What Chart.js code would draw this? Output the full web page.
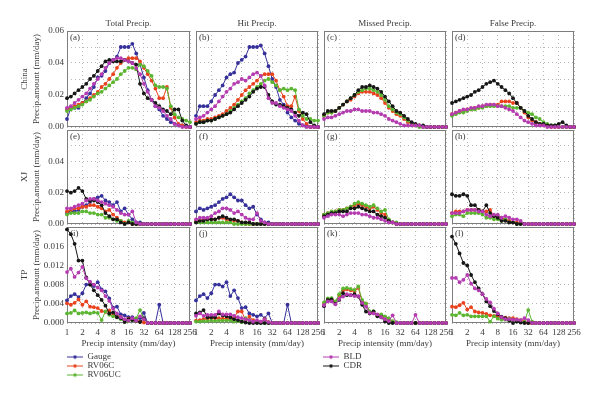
<!DOCTYPE html>
<html>
<head>
<meta charset="utf-8">
<script src="https://cdn.jsdelivr.net/npm/chart.js@4.4.1/dist/chart.umd.min.js"></script>
<style>
html, body { margin: 0; padding: 0; background: #fff; }
#wrap { position: relative; width: 600px; height: 398px; }
#wrap canvas { position: absolute; left: 0; top: 0; }
</style>
</head>
<body>
<div id="wrap"></div>
<script>
// precip intensity bins (mm/day), 4 per octave
const intensity = [1, 1.19, 1.41, 1.68, 2, 2.38, 2.83, 3.36, 4, 4.76, 5.66, 6.73, 8, 9.51, 11.31, 13.45,
  16, 19.03, 22.63, 26.91, 32, 38.05, 45.25, 53.82, 64, 76.11, 90.51, 107.63, 128, 152.22, 181.02, 215.27, 256];
const xTicks = [1, 2, 4, 8, 16, 32, 64, 128, 256];
const columns = ['Total Precip.', 'Hit Precip.', 'Missed Precip.', 'False Precip.'];
const regions = ['China', 'XJ', 'TP'];

// China
const aGauge = [.005,.012,.012,.012,.015,.018,.021,.025,.031,.032,.035,.040,.042,.044,.050,.050,.050,.052,.046,.039,.031,.023,.017,.013,.011,.007,.005,.003,.002,.001,.001,.0005,0];
const aRV06C = [.011,.012,.013,.014,.015,.016,.018,.020,.022,.025,.027,.030,.033,.037,.040,.042,.043,.043,.043,.041,.037,.033,.029,.024,.018,.018,.025,.012,.006,.002,.001,0,0];
const aRV06UC = [.010,.011,.012,.013,.014,.016,.017,.019,.021,.022,.024,.026,.028,.030,.033,.035,.037,.037,.036,.039,.038,.035,.032,.026,.025,.025,.024,.013,.008,.006,.005,.004,.003];
const aBLD = [.012,.013,.015,.017,.019,.021,.024,.027,.030,.033,.037,.040,.042,.043,.043,.042,.041,.040,.037,.033,.027,.022,.017,.013,.012,.010,.007,.005,.002,.001,0,0,0];
const aCDR = [.018,.019,.021,.023,.025,.027,.030,.032,.035,.038,.041,.042,.041,.041,.041,.042,.041,.040,.039,.027,.021,.018,.017,.015,.013,.011,.010,.008,.011,.011,.004,.001,0];

const bGauge = [.007,.013,.013,.013,.016,.020,.023,.026,.031,.033,.034,.040,.042,.044,.050,.050,.050,.051,.046,.038,.030,.025,.017,.014,.009,.006,.004,.002,.001,.001,0,0,0];
const bRV06C = [.003,.004,.004,.005,.005,.006,.007,.008,.010,.012,.014,.017,.020,.023,.025,.027,.029,.032,.033,.033,.033,.029,.023,.019,.013,.013,.019,.010,.005,.002,0,0,0];
const bRV06UC = [.002,.003,.003,.004,.004,.005,.006,.007,.008,.010,.012,.014,.016,.018,.021,.023,.025,.027,.029,.030,.028,.026,.023,.024,.023,.024,.023,.011,.007,.005,.005,.004,.004];
const bBLD = [.005,.006,.007,.009,.011,.013,.016,.019,.022,.024,.027,.028,.030,.029,.031,.033,.034,.032,.026,.018,.015,.015,.013,.012,.011,.010,.007,.004,.001,0,0,0,0];
const bCDR = [.002,.003,.003,.004,.004,.005,.006,.007,.008,.009,.011,.013,.015,.017,.019,.022,.024,.025,.025,.020,.016,.014,.014,.013,.012,.011,.009,.007,.009,.008,.003,.001,0];

const cRV06C = [.007,.009,.009,.010,.012,.014,.016,.017,.019,.021,.022,.022,.022,.021,.020,.018,.015,.012,.010,.008,.007,.005,.003,.002,.001,.001,0,0,0,0,0,0,0];
const cRV06UC = [.007,.009,.009,.010,.012,.014,.016,.018,.020,.022,.023,.024,.024,.023,.022,.020,.017,.013,.011,.009,.008,.006,.004,.002,.001,0,0,0,0,0,0,0,0];
const cBLD = [.005,.006,.006,.007,.008,.009,.010,.010,.011,.011,.010,.010,.010,.009,.009,.008,.007,.005,.004,.003,.002,.001,.001,.001,.001,.001,0,0,0,0,0,0,0];
const cCDR = [.008,.010,.010,.010,.012,.014,.016,.018,.020,.023,.025,.025,.026,.025,.024,.022,.019,.016,.013,.010,.009,.007,.005,.003,.002,.001,.001,0,0,0,0,0,0];

const dRV06C = [.008,.009,.010,.010,.011,.011,.012,.012,.013,.013,.014,.014,.014,.016,.016,.016,.015,.015,.012,.009,.006,.004,.003,.002,.001,.001,0,0,0,0,0,0,0];
const dRV06UC = [.007,.008,.009,.009,.010,.011,.011,.012,.012,.013,.013,.013,.013,.013,.013,.013,.012,.012,.012,.010,.009,.008,.006,.005,.003,.002,.001,.001,0,0,0,0,0];
const dBLD = [.008,.009,.010,.011,.011,.012,.012,.013,.013,.014,.014,.014,.013,.013,.012,.011,.010,.008,.006,.004,.003,.002,.001,.001,.001,0,0,0,0,0,0,0,0];
const dCDR = [.015,.016,.017,.018,.019,.020,.022,.023,.025,.027,.028,.029,.027,.025,.023,.021,.018,.015,.012,.010,.007,.005,.003,.002,.002,.001,.001,.001,.002,.003,.001,0,0];

// XJ
const eGauge = [.007,.008,.008,.009,.011,.012,.014,.016,.017,.018,.015,.014,.012,.014,.008,.010,.006,.003,.001,.001,0,0,0,0,0,0,0,0,0,0,0,0,0];
const eRV06C = [.008,.009,.010,.010,.011,.011,.012,.012,.011,.010,.008,.009,.006,.004,.002,.001,.001,0,0,0,0,0,0,0,0,0,0,0,0,0,0,0,0];
const eRV06UC = [.006,.007,.007,.007,.008,.008,.007,.007,.006,.006,.004,.004,.003,.002,.002,0,.002,.001,0,0,0,0,0,0,0,0,0,0,0,0,0,0,0];
const eBLD = [.010,.010,.011,.012,.013,.015,.016,.016,.015,.014,.013,.012,.011,.009,.007,.006,.006,.008,.001,0,0,0,0,0,0,0,0,0,0,0,0,0,0];
const eCDR = [.021,.020,.021,.023,.021,.016,.015,.015,.014,.012,.007,.005,.003,.003,.001,0,.001,0,0,0,0,0,0,0,0,0,0,0,0,0,0,0,0];

const fGauge = [.008,.010,.009,.010,.011,.012,.014,.016,.017,.019,.017,.015,.015,.012,.010,.011,.006,.003,.001,.001,0,0,0,0,0,0,0,0,0,0,0,0,0];
const fRV06C = [.002,.002,.003,.003,.003,.003,.004,.004,.003,.002,.002,.002,.001,0,0,0,0,0,0,0,0,0,0,0,0,0,0,0,0,0,0,0,0];
const fRV06UC = [.001,.001,.001,.001,.001,.001,.001,.001,.001,.001,0,0,0,0,0,0,0,0,0,0,0,0,0,0,0,0,0,0,0,0,0,0,0];
const fBLD = [.003,.004,.004,.004,.005,.007,.008,.010,.010,.009,.007,.008,.006,.004,.003,.003,.007,.002,.001,0,0,0,0,0,0,0,0,0,0,0,0,0,0];
const fCDR = [.001,.002,.002,.003,.003,.003,.004,.005,.004,.003,.003,.002,.001,.001,.001,0,0,0,0,0,0,0,0,0,0,0,0,0,0,0,0,0,0];

const gRV06C = [.006,.007,.007,.008,.009,.009,.010,.011,.012,.013,.012,.011,.010,.011,.009,.007,.006,.002,.001,0,0,0,0,0,0,0,0,0,0,0,0,0,0];
const gRV06UC = [.006,.007,.008,.008,.009,.009,.010,.011,.013,.014,.013,.012,.011,.012,.010,.008,.009,.003,.001,.001,0,0,0,0,0,0,0,0,0,0,0,0,0];
const gBLD = [.004,.005,.006,.006,.006,.005,.006,.007,.007,.007,.006,.006,.005,.004,.004,.003,.002,.001,.001,0,0,0,0,0,0,0,0,0,0,0,0,0,0];
const gCDR = [.005,.006,.007,.007,.008,.008,.008,.010,.010,.011,.010,.009,.008,.008,.006,.005,.004,.002,.001,0,0,0,0,0,0,0,0,0,0,0,0,0,0];

const hRV06C = [.007,.008,.008,.008,.009,.009,.009,.009,.008,.008,.009,.005,.005,.004,.003,.002,.001,.001,.001,0,0,0,0,0,0,0,0,0,0,0,0,0,0];
const hRV06UC = [.005,.006,.006,.005,.007,.007,.007,.007,.006,.004,.004,.003,.003,.002,.003,.001,.001,0,0,0,0,0,0,0,0,0,0,0,0,0,0,0,0];
const hBLD = [.007,.007,.007,.008,.009,.009,.009,.008,.008,.006,.005,.006,.006,.004,.005,.004,.003,.003,.002,0,0,0,0,0,0,0,0,0,0,0,0,0,0];
const hCDR = [.019,.018,.018,.019,.018,.012,.012,.009,.008,.012,.007,.005,.004,.002,.002,.001,.001,0,0,0,0,0,0,0,0,0,0,0,0,0,0,0,0];

// TP
const iGauge = [.0047,.0056,.0060,.0054,.0062,.0080,.0080,.0077,.0085,.0070,.0066,.0051,.0032,.0034,.0018,.0016,.0012,.0012,.0008,.0010,.0021,0,0,0,.0038,0,0,0,0,0,0,0,0];
const iRV06C = [.0041,.0038,.0042,.0049,.0038,.0045,.0034,.0033,.0031,.0025,.0023,.0026,.0017,.0014,.0012,.0006,.0009,.0008,.0005,.0003,.0001,0,0,0,0,0,0,0,0,0,0,0,0];
const iRV06UC = [.0020,.0021,.0026,.0020,.0021,.0022,.0020,.0022,.0021,.0006,.0024,.0017,.0014,.0012,.0008,.0004,.0004,.0006,.0010,.0027,.0008,0,0,0,0,0,0,0,0,0,0,0,0];
const iBLD = [.0106,.0113,.0096,.0105,.0117,.0093,.0086,.0080,.0074,.0068,.0056,.0046,.0030,.0020,.0012,.0008,.0005,.0010,.0005,.0014,.0008,0,0,0,0,0,0,0,0,0,0,0,0];
const iCDR = [.0195,.0185,.0165,.0130,.0130,.0095,.0080,.0068,.0058,.0048,.0036,.0020,.0022,.0012,.0010,.0002,.0008,.0006,.0005,.0002,.0010,0,0,0,0,0,0,0,0,0,0,0,0];

const jGauge = [.0047,.0056,.0060,.0052,.0062,.0080,.0080,.0076,.0085,.0056,.0068,.0052,.0031,.0033,.0020,.0017,.0014,.0017,.0010,.0020,0,0,0,0,.0038,0,0,0,0,0,0,0,0];
const jRV06C = [.0005,.0006,.0008,.0009,.0010,.0010,.0010,.0009,.0009,.0008,.0012,.0024,.0024,.0006,.0013,.0006,.0002,.0003,.0008,.0002,0,0,0,0,0,0,0,0,0,0,0,0,0];
const jRV06UC = [.0003,.0003,.0004,.0004,.0005,.0004,.0005,.0005,.0005,.0005,.0003,.0004,.0002,.0010,.0006,.0002,.0001,0,0,0,0,0,0,0,0,0,0,0,0,0,0,0,0];
const jBLD = [.0015,.0020,.0015,.0017,.0017,.0017,.0024,.0018,.0018,.0018,.0015,.0012,.0010,.0008,.0006,.0003,.0006,.0003,.0007,.0002,0,0,0,0,0,0,0,0,0,0,0,0,0];
const jCDR = [.0020,.0022,.0027,.0012,.0012,.0012,.0020,.0016,.0014,.0012,.0008,.0006,.0003,.0001,0,0,0,0,0,0,0,0,0,0,0,0,0,0,0,0,0,0,0];

const kRV06C = [.0040,.0050,.0050,.0044,.0058,.0068,.0070,.0068,.0066,.0073,.0045,.0040,.0022,.0023,.0016,.0017,.0012,.0008,.0003,0,0,0,0,0,0,0,0,0,0,0,0,0,0];
const kRV06UC = [.0043,.0051,.0052,.0045,.0060,.0072,.0073,.0071,.0069,.0076,.0048,.0041,.0024,.0024,.0017,.0018,.0014,.0010,.0004,.0002,0,0,0,0,0,0,0,0,0,0,0,0,0];
const kBLD = [.0037,.0045,.0045,.0039,.0050,.0055,.0060,.0058,.0056,.0056,.0042,.0034,.0021,.0020,.0018,.0012,.0008,.0004,.0016,0,0,0,0,0,.0017,0,0,0,0,0,0,0,0];
const kCDR = [.0035,.0048,.0049,.0040,.0048,.0062,.0058,.0058,.0060,.0055,.0038,.0024,.0020,.0024,.0014,.0012,.0003,0,0,0,0,0,0,0,0,0,0,0,0,0,0,0,0];

const lRV06C = [.0034,.0033,.0037,.0042,.0028,.0033,.0024,.0022,.0021,.0019,.0016,.0015,.0013,.0012,.0011,.0010,.0010,.0008,.0006,.0003,0,0,0,0,0,0,0,0,0,0,0,0,0];
const lRV06UC = [.0017,.0016,.0021,.0016,.0017,.0014,.0014,.0014,.0014,.0014,.0003,.0014,.0009,.0007,.0007,.0009,.0006,.0003,.0002,.0002,.0027,.0003,0,0,0,0,0,0,0,0,0,0,0];
const lBLD = [.0094,.0094,.0085,.0090,.0100,.0082,.0072,.0068,.0060,.0050,.0043,.0030,.0020,.0012,.0008,.0008,.0007,.0007,.0006,.0010,.0006,0,0,0,0,0,0,0,0,0,0,0,0];
const lCDR = [.0180,.0165,.0145,.0125,.0120,.0100,.0085,.0072,.0060,.0045,.0035,.0025,.0018,.0013,.0010,.0005,0,.0003,.0001,0,0,0,0,0,0,0,0,0,0,0,0,0,0];

const panels = [
  { tag: '(a)', row: 0, col: 0, series: { Gauge: aGauge, RV06C: aRV06C, RV06UC: aRV06UC, BLD: aBLD, CDR: aCDR } },
  { tag: '(b)', row: 0, col: 1, series: { Gauge: bGauge, RV06C: bRV06C, RV06UC: bRV06UC, BLD: bBLD, CDR: bCDR } },
  { tag: '(c)', row: 0, col: 2, series: { RV06C: cRV06C, RV06UC: cRV06UC, BLD: cBLD, CDR: cCDR } },
  { tag: '(d)', row: 0, col: 3, series: { RV06C: dRV06C, RV06UC: dRV06UC, BLD: dBLD, CDR: dCDR } },
  { tag: '(e)', row: 1, col: 0, series: { Gauge: eGauge, RV06C: eRV06C, RV06UC: eRV06UC, BLD: eBLD, CDR: eCDR } },
  { tag: '(f)', row: 1, col: 1, series: { Gauge: fGauge, RV06C: fRV06C, RV06UC: fRV06UC, BLD: fBLD, CDR: fCDR } },
  { tag: '(g)', row: 1, col: 2, series: { RV06C: gRV06C, RV06UC: gRV06UC, BLD: gBLD, CDR: gCDR } },
  { tag: '(h)', row: 1, col: 3, series: { RV06C: hRV06C, RV06UC: hRV06UC, BLD: hBLD, CDR: hCDR } },
  { tag: '(i)', row: 2, col: 0, series: { Gauge: iGauge, RV06C: iRV06C, RV06UC: iRV06UC, BLD: iBLD, CDR: iCDR } },
  { tag: '(j)', row: 2, col: 1, series: { Gauge: jGauge, RV06C: jRV06C, RV06UC: jRV06UC, BLD: jBLD, CDR: jCDR } },
  { tag: '(k)', row: 2, col: 2, series: { RV06C: kRV06C, RV06UC: kRV06UC, BLD: kBLD, CDR: kCDR } },
  { tag: '(l)', row: 2, col: 3, series: { RV06C: lRV06C, RV06UC: lRV06UC, BLD: lBLD, CDR: lCDR } },
];

const seriesNames = ['Gauge', 'RV06C', 'RV06UC', 'BLD', 'CDR'];
const colors = { Gauge: '#35309a', RV06C: '#e8431e', RV06UC: '#5cb531', BLD: '#b43bb0', CDR: '#161616' };
const drawOrder = { BLD: 0, CDR: 1, RV06UC: 2, RV06C: 3, Gauge: 4 };

// panel boxes (px)
const colLeft = [67, 196, 324, 452], colRight = [190, 318, 446, 574];
const rowTop = [31, 130, 227], rowBottom = [127, 224, 323];
const yMax = [0.06, 0.06, 0.02], yStep = [0.01, 0.01, 0.004];

const serif = "'Liberation Serif', 'DejaVu Serif', serif";
const ink = '#3a3a3a';
Chart.defaults.font.family = serif;
Chart.defaults.font.size = 9;
Chart.defaults.color = ink;

const wrap = document.getElementById('wrap');
function newCanvas() {
  const c = document.createElement('canvas');
  c.width = 600; c.height = 398;
  wrap.appendChild(c);
  return c;
}

const framePlugin = {
  id: 'frame',
  beforeDatasetsDraw(chart, args, opts) {
    const a = chart.chartArea, ctx = chart.ctx;
    ctx.save();
    ctx.strokeStyle = '#7d7d7d';
    ctx.lineWidth = 1;
    ctx.strokeRect(a.left + 0.5, a.top + 0.5, a.right - a.left - 1, a.bottom - a.top - 1);
    ctx.fillStyle = ink;
    ctx.font = '9px ' + serif;
    ctx.textBaseline = 'middle';
    ctx.fillText(opts.tag, a.left + 3, a.top + 7);
    ctx.restore();
  }
};

function yLabel(row) {
  return function (v) {
    if (row === 2) {
      const n = Math.round(v * 1000);
      return n === 20 ? '' : (n / 1000).toFixed(3);
    }
    const n = Math.round(v * 100);
    if (n % 2 || (row === 1 && n === 6)) return '';
    return (n / 100).toFixed(2);
  };
}

panels.forEach(p => {
  const L = colLeft[p.col], R = colRight[p.col], T = rowTop[p.row], B = rowBottom[p.row];
  const yW = p.col === 0 ? L - 19 : 0;
  const xH = p.row === 2 ? 26 : 0;
  const datasets = seriesNames.filter(n => p.series[n]).map(n => ({
    label: n,
    data: p.series[n],
    borderColor: colors[n],
    backgroundColor: colors[n],
    pointBackgroundColor: colors[n],
    borderWidth: 1,
    pointRadius: 1.9,
    pointBorderWidth: 0,
    tension: 0,
    clip: false,
    order: drawOrder[n],
  }));
  new Chart(newCanvas(), {
    type: 'line',
    data: { labels: intensity, datasets: datasets },
    options: {
      responsive: false,
      animation: false,
      events: [],
      layout: { padding: { left: L - yW, right: 600 - R, top: p.row === 0 ? T - 13 : T, bottom: 398 - B - xH } },
      plugins: {
        legend: { display: false },
        tooltip: { enabled: false },
        title: {
          display: p.row === 0, text: columns[p.col], fullSize: false, color: ink,
          font: { size: 9, lineHeight: 12 / 9, weight: 'normal' }, padding: { top: 0, bottom: 1 },
        },
        frame: { tag: p.tag },
      },
      scales: {
        x: {
          type: 'logarithmic', min: 1, max: 256,
          afterBuildTicks: s => { s.ticks = xTicks.map(v => ({ value: v })); },
          afterFit: s => { s.height = xH; },
          grid: { color: '#b8b8b8', drawTicks: false },
          border: { display: false, dash: [1, 3] },
          ticks: { display: p.row === 2, autoSkip: false, maxRotation: 0, padding: 4, color: ink, callback: v => String(v) },
          title: { display: p.row === 2, text: 'Precip intensity (mm/day)', color: ink, font: { size: 9, lineHeight: 1.2 }, padding: 0 },
        },
        y: {
          min: 0, max: yMax[p.row],
          afterFit: s => { s.width = yW; },
          grid: { color: '#b8b8b8', drawTicks: false },
          border: { display: false, dash: [1, 3] },
          ticks: { display: p.col === 0, stepSize: yStep[p.row], autoSkip: false, padding: 3, color: ink, callback: yLabel(p.row) },
          title: {
            display: p.col === 0, text: [regions[p.row], 'Precip.amount (mm/day)'], color: ink,
            font: { size: 9, lineHeight: 12 / 9 }, padding: 0,
          },
        },
      },
    },
    plugins: [framePlugin],
  });
});

// legend marker: short line with a dot
function marker(color) {
  const c = document.createElement('canvas');
  c.width = 16; c.height = 5;
  const g = c.getContext('2d');
  g.strokeStyle = color; g.lineWidth = 1;
  g.beginPath(); g.moveTo(0, 2.5); g.lineTo(16, 2.5); g.stroke();
  g.fillStyle = color;
  g.beginPath(); g.arc(8, 2.5, 1.8, 0, Math.PI * 2); g.fill();
  return c;
}

function legendChart(names, left, top) {
  new Chart(newCanvas(), {
    type: 'line',
    data: { labels: [], datasets: names.map(n => ({ label: n, data: [], borderColor: colors[n] })) },
    options: {
      responsive: false,
      animation: false,
      events: [],
      layout: { padding: { left: left, top: top, right: 0, bottom: 0 } },
      scales: { x: { display: false }, y: { display: false } },
      plugins: {
        tooltip: { enabled: false },
        legend: {
          display: true, position: 'left', align: 'start',
          labels: {
            usePointStyle: true, pointStyleWidth: 16, boxHeight: 9, padding: 0,
            font: { size: 9 }, color: ink,
            generateLabels: chart => chart.data.datasets.map((d, i) => ({
              text: d.label, pointStyle: marker(d.borderColor), fillStyle: d.borderColor,
              strokeStyle: d.borderColor, lineWidth: 0, hidden: false, datasetIndex: i, fontColor: ink,
            })),
          },
        },
      },
    },
  });
}

legendChart(['Gauge', 'RV06C', 'RV06UC'], 67, 352.5);
legendChart(['BLD', 'CDR'], 323, 352.5);
</script>
</body>
</html>
